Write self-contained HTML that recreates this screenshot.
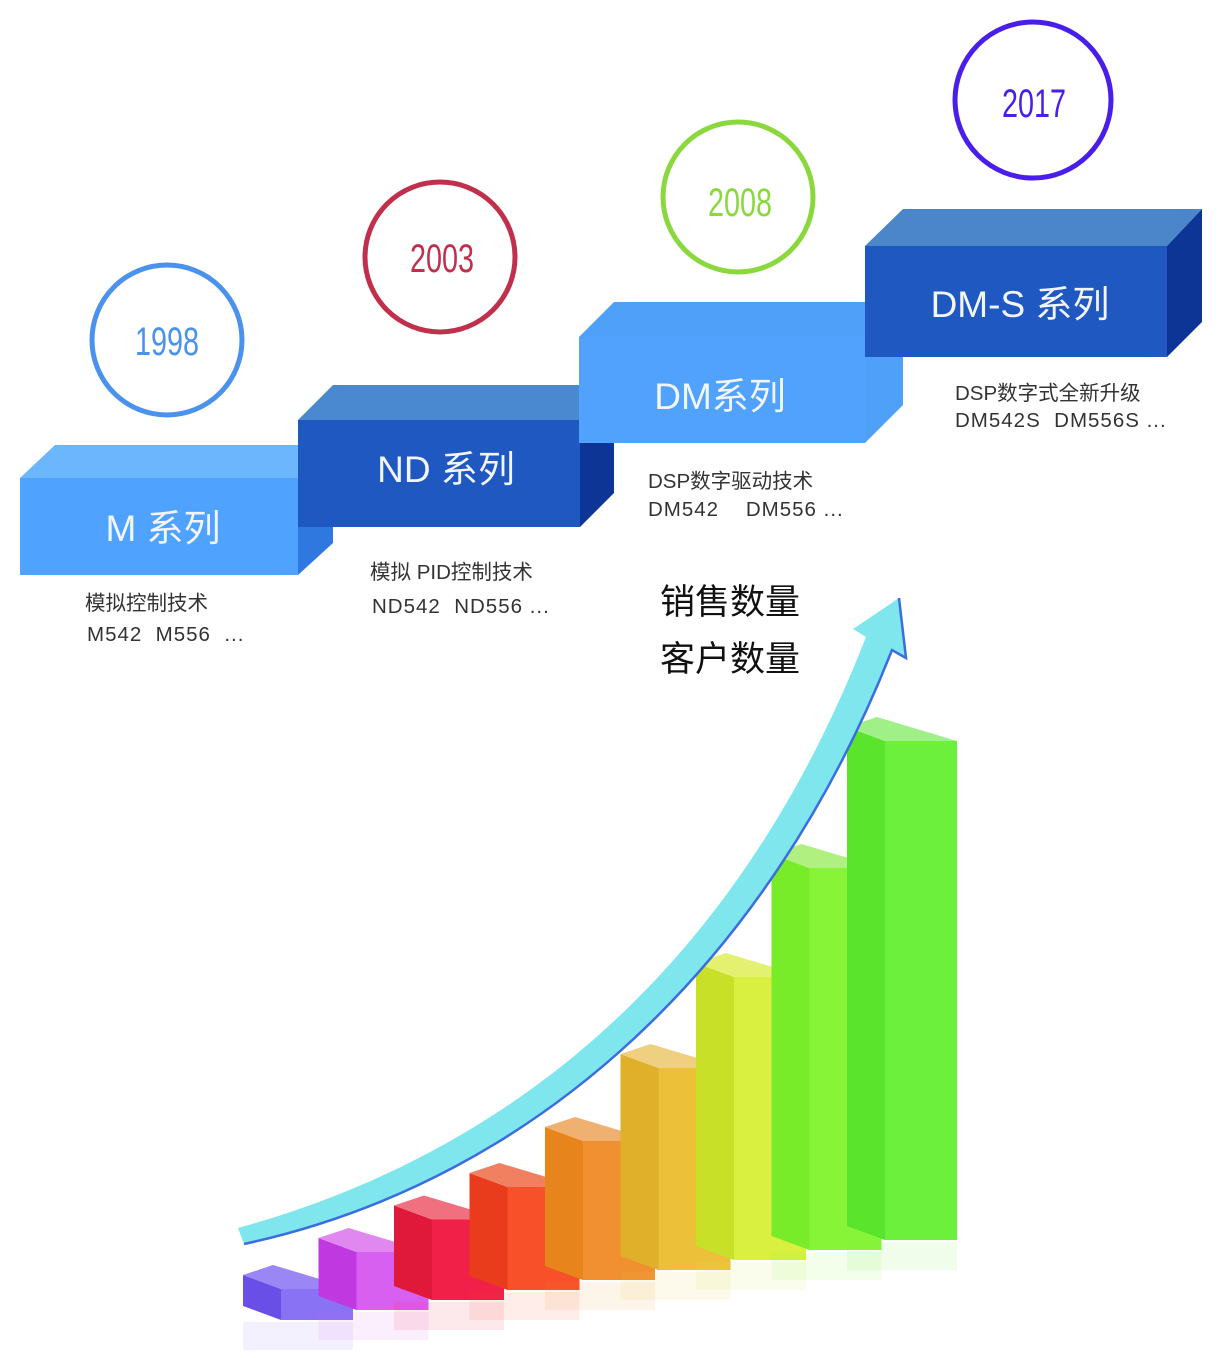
<!DOCTYPE html>
<html><head><meta charset="utf-8"><style>
body{margin:0;background:#fff;}
svg{display:block;font-family:"Liberation Sans","Noto Sans CJK SC",sans-serif;}
</style></head><body>
<svg id="chart" width="1222" height="1358" viewBox="0 0 1222 1358">
<!-- step boxes -->
<g>
<polygon points="20,478 55,445 333,445 298,478" fill="#6bb6fc"/>
<polygon points="298,478 333,445 333,543 298,575" fill="#2f78e0"/>
<rect x="20" y="478" width="278" height="97" fill="#4fa2fd"/>
<text x="163" y="541" font-size="37" fill="#f2f6fc" text-anchor="middle">M 系列</text>
</g>
<g>
<polygon points="298,420 333,385 614,385 580,420" fill="#4a88d0"/>
<polygon points="580,420 614,385 614,493 580,527" fill="#0c3596"/>
<rect x="298" y="420" width="282" height="107" fill="#2058c2"/>
<text x="446" y="482" font-size="37" fill="#f2f6fc" text-anchor="middle">ND 系列</text>
</g>
<g>
<polygon points="579,337 614,302 903,302 865,337" fill="#4fa0f8"/>
<polygon points="865,337 903,302 903,405 865,443" fill="#4fa0f8"/>
<rect x="579" y="337" width="286" height="106" fill="#50a2fd"/>
<text x="720" y="409" font-size="37" fill="#f2f6fc" text-anchor="middle">DM系列</text>
</g>
<g>
<polygon points="865,246 903,209 1202,209 1167,246" fill="#4b86ca"/>
<polygon points="1167,246 1202,209 1202,322 1167,357" fill="#0c3596"/>
<rect x="865" y="246" width="302" height="111" fill="#2058c2"/>
<text x="1020" y="317" font-size="37" fill="#f2f6fc" text-anchor="middle">DM-S 系列</text>
</g>
<!-- year circles -->
<g><circle cx="167" cy="340" r="75" fill="none" stroke="#4a92ec" stroke-width="5"/><text x="167" y="355" font-size="40" fill="#4a92ec" text-anchor="middle" transform="translate(167 0) scale(0.72 1) translate(-167 0)">1998</text></g>
<g><circle cx="440" cy="257" r="75" fill="none" stroke="#c0304c" stroke-width="5"/><text x="442" y="272" font-size="40" fill="#c0304c" text-anchor="middle" transform="translate(442 0) scale(0.72 1) translate(-442 0)">2003</text></g>
<g><circle cx="738" cy="197" r="75" fill="none" stroke="#8ad83e" stroke-width="5"/><text x="740" y="216" font-size="40" fill="#8ad83e" text-anchor="middle" transform="translate(740 0) scale(0.72 1) translate(-740 0)">2008</text></g>
<g><circle cx="1033" cy="100" r="78" fill="none" stroke="#4a1eea" stroke-width="5"/><text x="1034" y="117" font-size="40" fill="#4a1eea" text-anchor="middle" transform="translate(1034 0) scale(0.72 1) translate(-1034 0)">2017</text></g>
<!-- descriptions -->
<g font-size="20.5" fill="#333">
<text x="85" y="610">模拟控制技术</text>
<text x="87" y="641" letter-spacing="1" xml:space="preserve">M542  M556  ...</text>
<text x="370" y="579">模拟 PID控制技术</text>
<text x="372" y="613" letter-spacing="1" xml:space="preserve">ND542  ND556 ...</text>
<text x="648" y="488">DSP数字驱动技术</text>
<text x="648" y="516" letter-spacing="1" xml:space="preserve">DM542    DM556 ...</text>
<text x="955" y="400">DSP数字式全新升级</text>
<text x="955" y="427" letter-spacing="1" xml:space="preserve">DM542S  DM556S ...</text>
</g>
<text x="660" y="614" font-size="35" fill="#111">销售数量</text>
<text x="660" y="671" font-size="35" fill="#111">客户数量</text>
<g id="bars"></g>
<g>
<path d="M238,1228 C520,1150 740,960 866,637 L853,629 L899,598 L906,658 L892,650 C770,960 540,1180 244,1244 Z" fill="#7ee6ec"/>
<path d="M244,1244 C540,1180 770,960 892,650 L906,658 L899,598" fill="none" stroke="#3a6ee0" stroke-width="2.5"/>
</g>
</svg>
<script>
const categories = ["b1","b2","b3","b4","b5","b6","b7","b8","b9"];
const values = [1.0, 1.6, 2.1, 2.6, 3.4, 4.8, 6.6, 8.8, 11.4];
const colorsFront = ["#6a4ee8","#c038e0","#e0183a","#e83c1c","#e8841c","#e0b02a","#c8e028","#78ec28","#5ae42c"];
const colorsSide = ["#8a72f4","#d860f0","#f02048","#f85028","#f09030","#ecc038","#daf040","#88f438","#6cf03c"];
const colorsTop = ["#9a86f4","#e088f0","#f07080","#f08060","#f0b070","#eed080","#e4f070","#b0f080","#a0f088"];
const svgNS = "http://www.w3.org/2000/svg";
const g = document.getElementById("bars");
const unit = 45;
function xLeft(i){ return 243 + i*75.5; }
function yBase(i){ return 1320 - i*10; }
function yTop(i,v){ return yBase(i) - v*unit; }
categories.forEach((c,i)=>{
  const x = xLeft(i), b = yBase(i), t = yTop(i, values[i]);
  const fw = 38, sw = 72, d = 14;
  const grp = document.createElementNS(svgNS,"g");
  
  
  const refl = document.createElementNS(svgNS,"rect");
  refl.setAttribute("x", x); refl.setAttribute("y", b+2);
  refl.setAttribute("width", fw+sw); refl.setAttribute("height", 28);
  refl.setAttribute("fill", colorsSide[i]); refl.setAttribute("opacity", "0.1");
  grp.appendChild(refl);
  const front = document.createElementNS(svgNS,"polygon");
  front.setAttribute("points", `${x},${t} ${x+fw},${t+d} ${x+fw},${b} ${x},${b-d}`);
  front.setAttribute("fill", colorsFront[i]);
  grp.appendChild(front);
  const side = document.createElementNS(svgNS,"polygon");
  side.setAttribute("points", `${x+fw},${t+d} ${x+fw+sw},${t+d} ${x+fw+sw},${b} ${x+fw},${b}`);
  side.setAttribute("fill", colorsSide[i]);
  grp.appendChild(side);
  const top = document.createElementNS(svgNS,"polygon");
  top.setAttribute("points", `${x},${t} ${x+30},${t-10} ${x+fw+sw},${t+d} ${x+fw},${t+d}`);
  top.setAttribute("fill", colorsTop[i]);
  grp.appendChild(top);
  g.appendChild(grp);
});
</script>
</body></html>
